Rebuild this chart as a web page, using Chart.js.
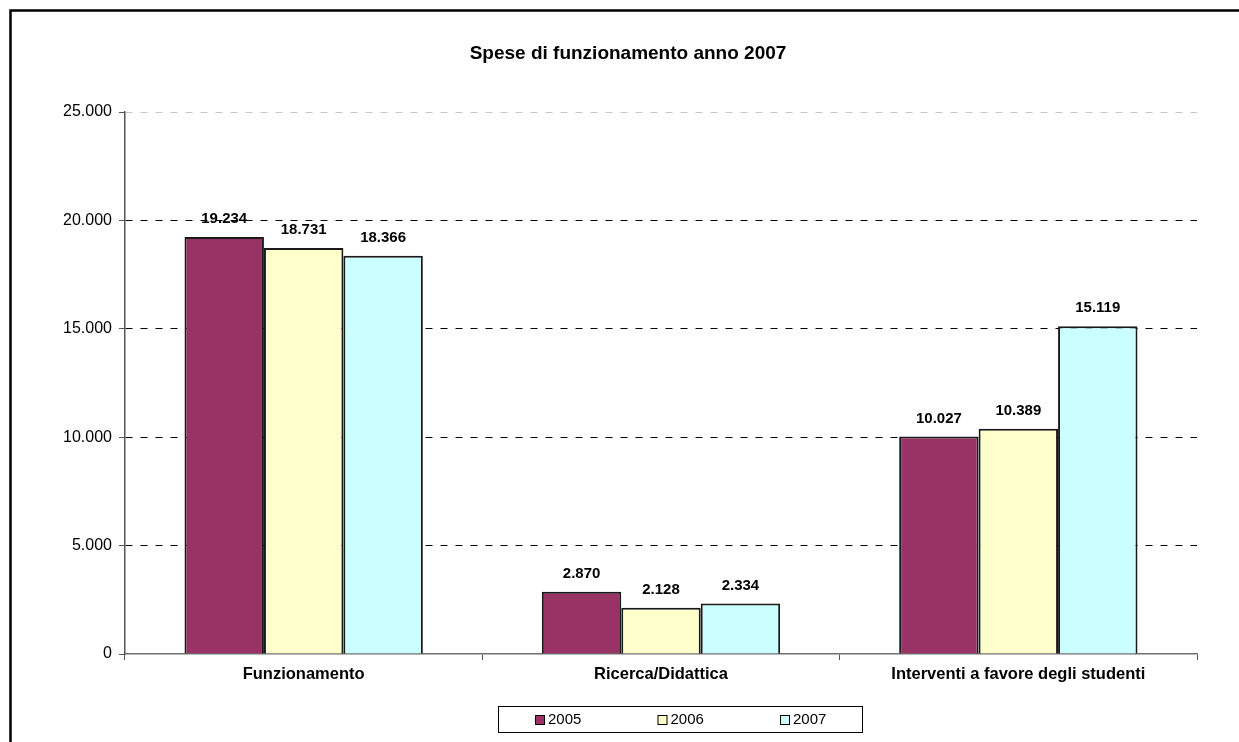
<!DOCTYPE html>
<html lang="it">

<head>
  <meta charset="UTF-8" />
  <title>Spese di funzionamento anno 2007</title>
  <script src="https://cdn.jsdelivr.net/npm/chart.js"></script>
  <style>
    html,
    body {
      margin: 0;
      padding: 0;
      background: #fff;
      overflow: hidden;
    }

    .chart-wrap {
      position: relative;
      width: 1239px;
      height: 742px;
    }
  </style>
</head>

<body>
  <div class="chart-wrap">
    <canvas id="speseChart"></canvas>
  </div>

  <script>
    // data
    const categories = ['Funzionamento', 'Ricerca/Didattica', 'Interventi a favore degli studenti'];
    const years = ['2005', '2006', '2007'];
    const values2005 = [19234, 2870, 10027];
    const values2006 = [18731, 2128, 10389];
    const values2007 = [18366, 2334, 15119];
    const yTicks = [0, 5000, 10000, 15000, 20000, 25000];
    const titleText = 'Spese di funzionamento anno 2007';

    const FONT = '"Liberation Sans", Arial, sans-serif';

    // 19234 -> "19.234"
    function fmt(v) {
      return String(v).replace(/\B(?=(\d{3})+(?!\d))/g, '.');
    }

    // frame, title, value labels and the boxed legend
    const excelLook = {
      id: 'excelLook',
      beforeDraw(chart) {
        const ctx = chart.ctx;
        ctx.save();
        ctx.fillStyle = '#fff';
        ctx.fillRect(0, 0, chart.width, chart.height);
        ctx.strokeStyle = '#000';
        ctx.lineWidth = 2.5;
        ctx.strokeRect(10.5, 10.5, chart.width + 20, chart.height + 20);
        ctx.restore();
      },
      afterDatasetsDraw(chart) {
        const ctx = chart.ctx;
        ctx.save();
        ctx.font = 'bold 15px ' + FONT;
        ctx.fillStyle = '#000';
        ctx.textAlign = 'center';
        ctx.textBaseline = 'middle';
        chart.data.datasets.forEach((ds, i) => {
          chart.getDatasetMeta(i).data.forEach((bar, j) => {
            ctx.fillText(fmt(ds.data[j]), bar.x, bar.y - 18);
          });
        });
        ctx.restore();
      },
      afterDraw(chart) {
        const ctx = chart.ctx;
        ctx.save();
        // title
        ctx.font = 'bold 19px ' + FONT;
        ctx.fillStyle = '#000';
        ctx.textAlign = 'center';
        ctx.textBaseline = 'middle';
        ctx.fillText(titleText, 628, 54);

        // legend box
        const boxL = 498, boxT = 706, boxW = 364, boxH = 26;
        ctx.strokeStyle = '#000';
        ctx.lineWidth = 1;
        ctx.strokeRect(boxL + 0.5, boxT + 0.5, boxW, boxH);
        ctx.font = '15px ' + FONT;
        ctx.textAlign = 'left';
        chart.data.datasets.forEach((ds, i) => {
          const sx = 535 + i * 122.5;
          const cy = boxT + boxH / 2 + 1;
          ctx.fillStyle = ds.backgroundColor;
          ctx.fillRect(sx, cy - 5, 10, 10);
          ctx.strokeRect(sx + 0.5, cy - 4.5, 9, 9);
          ctx.fillStyle = '#000';
          ctx.fillText(ds.label, sx + 13, cy);
        });
        ctx.restore();
      }
    };

    const ctxEl = document.getElementById('speseChart');

    new Chart(ctxEl, {
      type: 'bar',
      data: {
        labels: categories,
        datasets: [{
            label: years[0],
            data: values2005,
            backgroundColor: '#993366',
            borderColor: '#1a1a1a',
            borderWidth: 2,
          },
          {
            label: years[1],
            data: values2006,
            backgroundColor: '#FFFFCC',
            borderColor: '#1a1a1a',
            borderWidth: 2,
          },
          {
            label: years[2],
            data: values2007,
            backgroundColor: '#CCFFFF',
            borderColor: '#1a1a1a',
            borderWidth: 2,
          },
        ],
      },
      options: {
        responsive: true,
        maintainAspectRatio: false,
        animation: false,
        categoryPercentage: 0.667,
        barPercentage: 1,
        layout: {
          padding: {
            top: 112,
            right: 42,
            bottom: 0,
            left: 0
          }
        },
        plugins: {
          legend: {
            display: false
          },
          title: {
            display: false
          },
          tooltip: {
            enabled: false
          },
        },
        scales: {
          x: {
            afterFit: (s) => {
              s.height = 88;
            },
            grid: {
              offset: true,
              drawOnChartArea: false,
              drawTicks: true,
              tickLength: 6,
              tickColor: '#555',
            },
            border: {
              display: true,
              color: '#707070',
              width: 1.5
            },
            ticks: {
              padding: 5,
              color: '#000',
              font: {
                family: FONT,
                size: 16.5,
                weight: 'bold'
              },
              maxRotation: 0,
              autoSkip: false,
            },
          },
          y: {
            min: 0,
            max: 25000,
            afterFit: (s) => {
              s.width = 125;
            },
            afterBuildTicks: (s) => {
              s.ticks = yTicks.map(v => ({
                value: v
              }));
            },
            grid: {
              drawTicks: true,
              tickLength: 6,
              tickColor: '#555',
              tickBorderDash: [],
              color: (c) => {
                if (c.tick && c.tick.value === 25000) return '#c8c8c8';
                if (c.tick && c.tick.value === 0) return 'rgba(0,0,0,0)';
                return '#000';
              },
              lineWidth: 1,
            },
            border: {
              display: true,
              color: '#555',
              width: 1.5,
              dash: [7, 8]
            },
            ticks: {
              padding: 7,
              color: '#000',
              font: {
                family: FONT,
                size: 16
              },
              callback: (v) => fmt(v),
            },
          },
        },
      },
      plugins: [excelLook],
    });
  </script>
</body>

</html>
